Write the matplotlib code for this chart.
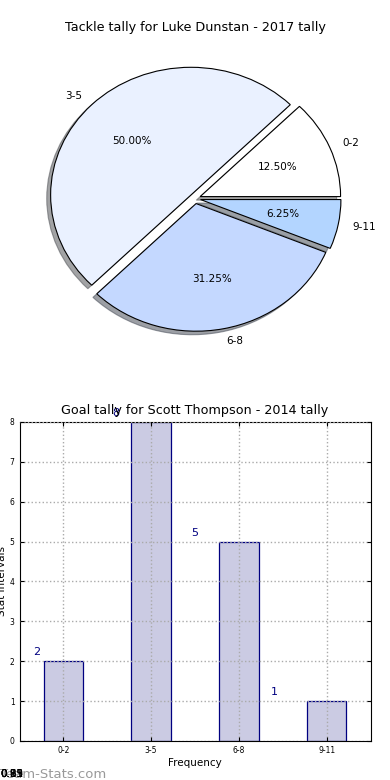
import numpy as np
import matplotlib
matplotlib.use("Agg")
import matplotlib.pyplot as plt

# pie data
pie_labels = ["0-2", "3-5", "6-8", "9-11"]
pie_values = [2, 8, 5, 1]
pie_colors = ["#ffffff", "#eaf1ff", "#c4d8ff", "#b3d5ff"]

# bar data
bar_labels = ["0-2", "3-5", "6-8", "9-11"]
bar_values = [2, 8, 5, 1]

fig, (ax1, ax2) = plt.subplots(2, 1, figsize=(3.9, 7.8), dpi=100)
fig.subplots_adjust(left=0.05, right=0.95, top=0.95, bottom=0.05, hspace=0.2)

wedges, texts, autotexts = ax1.pie(pie_values, labels=pie_labels, colors=pie_colors,
                                   explode=[0.04] * len(pie_values), shadow=True,
                                   autopct="%.2f%%", startangle=0,
                                   wedgeprops={"linewidth": 0.8, "edgecolor": "black"},
                                   textprops={"fontsize": 7.5})
ax1.set_aspect("auto")
ax1.set_xlim(-1.25, 1.25)
ax1.set_ylim(-1.25, 1.25)
ax1.set_title("Tackle tally for Luke Dunstan - 2017 tally", fontsize=9.2)

x = np.arange(len(bar_values))
ax2.bar(x, bar_values, width=0.45, color="#cbcbe3", edgecolor="navy", linewidth=0.9)
for i, v in enumerate(bar_values):
    ax2.text(0.9 * i - 0.3, v + 0.15, str(v), color="navy", fontsize=8, ha="center")
ax2.set_xlim(-0.5, 3.5)
ax2.set_ylim(0, 8)
ax2.set_xticks(x)
ax2.set_xticklabels(bar_labels)
ax2.set_yticks(range(0, 9))
ax2.tick_params(labelsize=5.5, direction="in", top=True, right=True, length=3)
ax2.grid(True, linestyle=":", color="#aaaaaa", linewidth=1.0)
ax2.set_axisbelow(False)
ax2.set_xlabel("Frequency", fontsize=7.5, labelpad=2)
ax2.set_ylabel("Stat Intervals", fontsize=7.5, labelpad=2)
ax2.set_title("Goal tally for Scott Thompson - 2014 tally", fontsize=9.2)

fig.text(0.0, 0.003, "Team-Stats.com", color="gray", fontsize=9.5, alpha=0.8)
for s in ["0.81", "0.61", "0.25", "0.19", "0.93"]:
    fig.text(0.0, 0.004, s, color="black", fontsize=7.5)

fig.savefig("out.png", facecolor="white")
